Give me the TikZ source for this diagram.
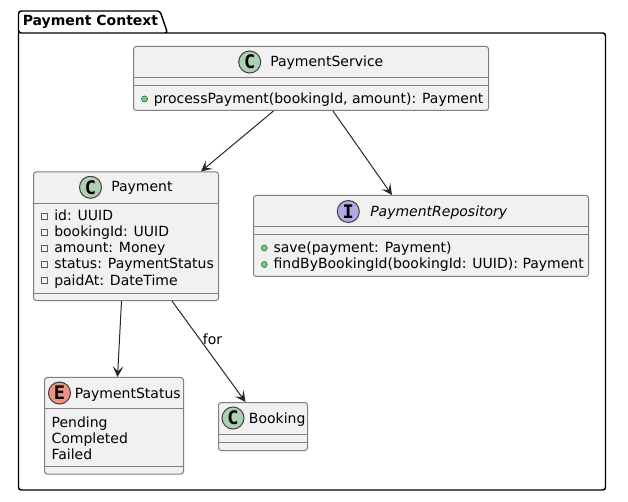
\documentclass[tikz,border=0pt]{standalone}
\usepackage{fontspec}
\setmainfont{DejaVu Sans}
\newfontfamily\spotfont{DejaVu Sans Mono}
\usepackage{tikz}
\usetikzlibrary{
  arrows.meta
}

\definecolor{boxfill}{HTML}{F1F1F1}
\definecolor{boxline}{HTML}{7F7F7F}
\definecolor{arrowline}{HTML}{262626}
\definecolor{spotclass}{HTML}{ADD1B2}
\definecolor{spotiface}{HTML}{B4A7E5}
\definecolor{spotenum}{HTML}{EB937F}
\definecolor{pubfill}{HTML}{84BE84}
\definecolor{publine}{HTML}{038048}
\definecolor{privline}{HTML}{C82930}

\begin{document}
\begin{tikzpicture}[x=0.75pt, y=-0.75pt]
      \tikzstyle{box template}=[draw=boxline, fill=boxfill, line width=0.75pt, rounded corners=2pt, inner sep=0pt]
      \tikzstyle{divider}=[draw=boxline, line width=0.75pt]
      \tikzstyle{label template}=[anchor=base west, inner sep=0pt, font=\fontsize{10.5pt}{12pt}\selectfont]
      \tikzstyle{spot template}=[circle, draw=black!75, line width=0.75pt, minimum size=16.5pt, inner sep=0pt, font=\spotfont\bfseries\fontsize{14pt}{14pt}\selectfont]
      \tikzstyle{pub template}=[circle, draw=publine, fill=pubfill, line width=0.4pt, minimum size=4.6pt, inner sep=0pt]
      \tikzstyle{priv template}=[rectangle, draw=privline, line width=0.6pt, minimum size=4.4pt, inner sep=0pt]
      \tikzstyle{link}=[draw=arrowline, line width=0.75pt, -{Stealth[length=8pt, width=8pt, inset=3.6pt]}]

      \useasboundingbox (0, 0) rectangle (628, 502);

      % package outline
      \draw [line width=1.1pt, rounded corners=2pt] (18.5, 490) -- (18.5, 11) -- (160, 11) -- (167.5, 33) -- (18.5, 33) -- (18.5, 33) -- (605.5, 33) -- (605.5, 490) -- cycle;
      \node [label template, font=\bfseries\fontsize{10.5pt}{12pt}\selectfont] (Title) at (22.5, 26){Payment Context};

      % boxes
      \node [box template, minimum width=266.25pt, minimum height=48pt] (Service) at (311, 78.5){};
      \node [box template, minimum width=138.75pt, minimum height=96.4pt] (Payment) at (126, 236.25){};
      \node [box template, minimum width=251.25pt, minimum height=60.75pt] (Repo) at (421, 236){};
      \node [box template, minimum width=104.25pt, minimum height=72.4pt] (Status) at (114, 425.75){};
      \node [box template, minimum width=66.75pt, minimum height=36pt] (Booking) at (263, 426.5){};

      \draw [divider] ([shift={(0,32)}]Service.north west) -- ([shift={(0,32)}]Service.north east);
      \draw [divider] ([shift={(0,40)}]Service.north west) -- ([shift={(0,40)}]Service.north east);
      \draw [divider] ([shift={(0,32)}]Payment.north west) -- ([shift={(0,32)}]Payment.north east);
      \draw [divider] ([shift={(0,-8)}]Payment.south west) -- ([shift={(0,-8)}]Payment.south east);
      \draw [divider] ([shift={(0,32)}]Repo.north west) -- ([shift={(0,32)}]Repo.north east);
      \draw [divider] ([shift={(0,40)}]Repo.north west) -- ([shift={(0,40)}]Repo.north east);
      \draw [divider] ([shift={(0,32)}]Status.north west) -- ([shift={(0,32)}]Status.north east);
      \draw [divider] ([shift={(0,-8)}]Status.south west) -- ([shift={(0,-8)}]Status.south east);
      \draw [divider] ([shift={(0,32)}]Booking.north west) -- ([shift={(0,32)}]Booking.north east);
      \draw [divider] ([shift={(0,40)}]Booking.north west) -- ([shift={(0,40)}]Booking.north east);

      % headers
      \node [spot template, fill=spotclass] (ServiceSpot) at (249.7, 62){C};
      \node [label template] (ServiceName) at (270, 67){PaymentService};
      \node [spot template, fill=spotclass] (PaymentSpot) at (90.5, 187.3){C};
      \node [label template] (PaymentName) at (111, 192){Payment};
      \node [spot template, fill=spotiface] (RepoSpot) at (348.3, 211.5){I};
      \node [label template, font=\itshape\fontsize{10.5pt}{12pt}\selectfont] (RepoName) at (370, 216.7){PaymentRepository};
      \node [spot template, fill=spotenum] (StatusSpot) at (59.5, 393){E};
      \node [label template] (StatusName) at (74.5, 398.7){PaymentStatus};
      \node [spot template, fill=spotclass] (BookingSpot) at (233, 418){C};
      \node [label template] (BookingName) at (248.7, 423){Booking};

      % members
      \node [pub template] (ServiceIcon) at (144.5, 99){};
      \node [label template] (ServiceOp) at (153.5, 103.3){processPayment(bookingId, amount): Payment};

      \foreach \rowy/\rowname/\rowtext in {220.5/Id/{id: UUID}, 236.7/BookingId/{bookingId: UUID}, 252.8/Amount/{amount: Money}, 269/State/{status: PaymentStatus}, 285.2/PaidAt/{paidAt: DateTime}}{
        \node [priv template] (\rowname Icon) at (44.5, \rowy-4.5){};
        \node [label template] (\rowname Field) at (54, \rowy){\rowtext};
      }

      \node [pub template] (SaveIcon) at (264.3, 248){};
      \node [label template] (SaveOp) at (273.3, 252.5){save(payment: Payment)};
      \node [pub template] (FindIcon) at (264.3, 264.5){};
      \node [label template] (FindOp) at (273.3, 268.7){findByBookingId(bookingId: UUID): Payment};

      \node [label template] (Pending) at (51.3, 427.2){Pending};
      \node [label template] (Completed) at (51.3, 443.2){Completed};
      \node [label template] (Failed) at (51.3, 459.2){Failed};

      % arrows
      \draw [link] ([shift={(-37.5,0)}]Service.south) -- ([shift={(75,0)}]Payment.north);
      \draw [link] ([shift={(22,0)}]Service.south) -- ([shift={(-29,0)}]Repo.north);
      \draw [link] ([shift={(-4.5,0)}]Payment.south) -- ([shift={(3.5,0)}]Status.north);
      \draw [link] ([shift={(46,0)}]Payment.south) -- node [label template, anchor=center, pos=0.38, xshift=9.5pt] (ForLabel){for} ([shift={(-17.5,0)}]Booking.north);

    \end{tikzpicture}
\end{document}
